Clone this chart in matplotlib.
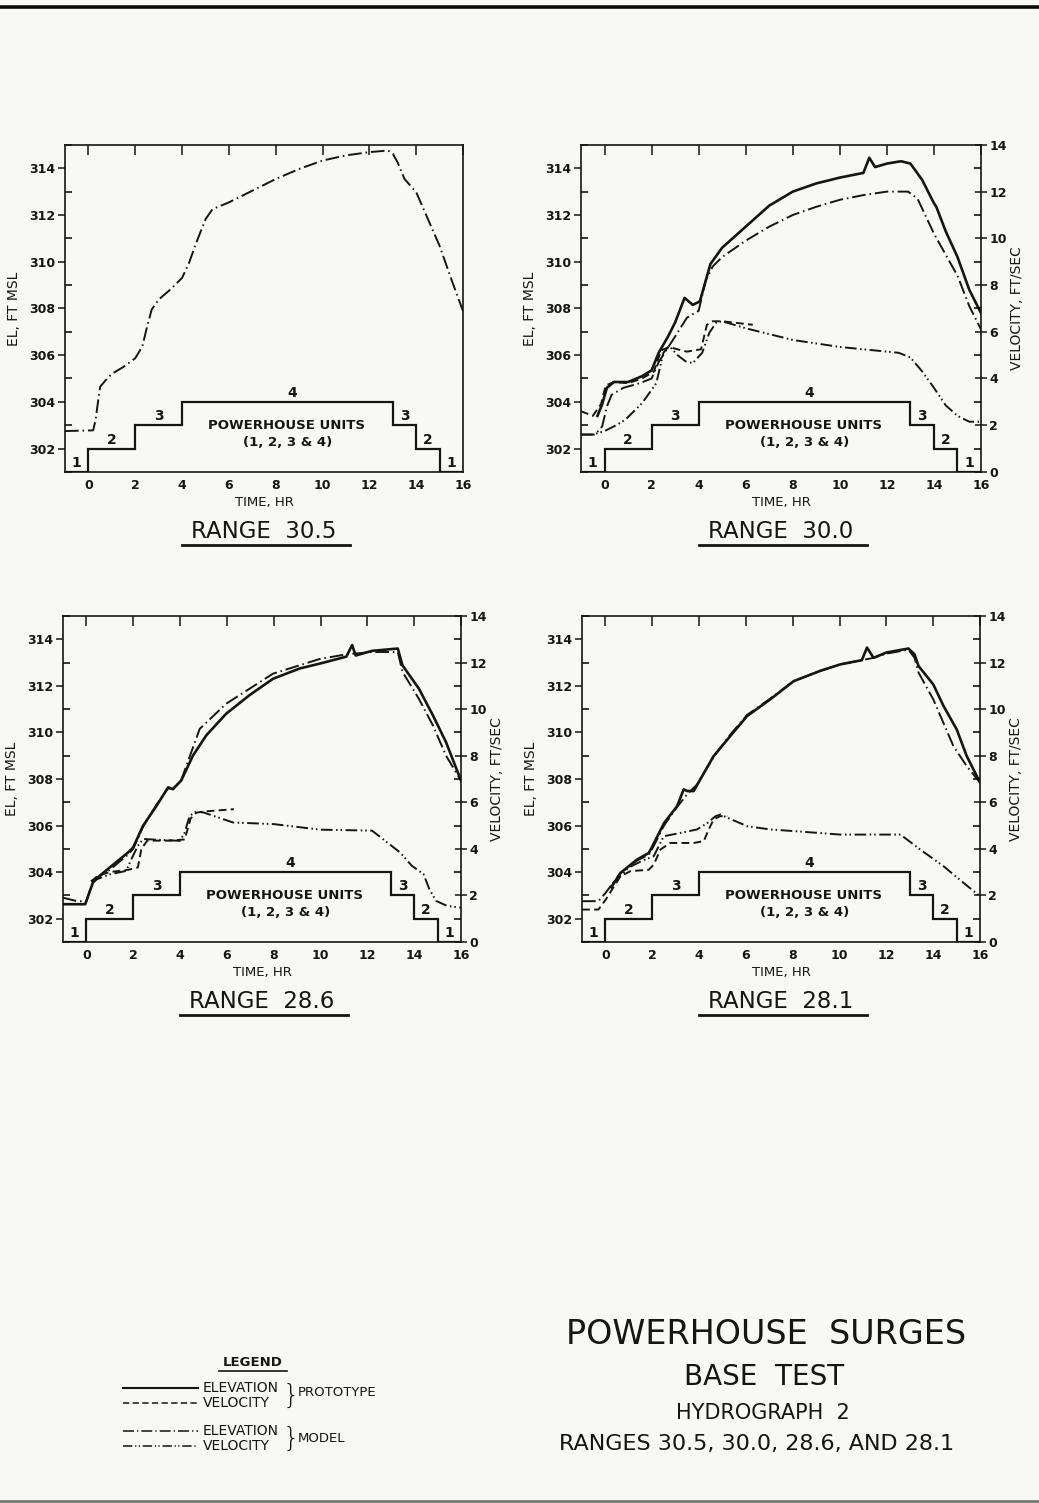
import numpy as np
import matplotlib
matplotlib.use('Agg')
import matplotlib.pyplot as plt
from matplotlib.lines import Line2D
from matplotlib.ticker import MultipleLocator

plt.rcParams['font.family'] = ['DejaVu Sans']

# ---------------- data ----------------
# powerhouse units in operation (step chart)
unit_edges = [-1, 0, 2, 4, 13, 14, 15, 16]
unit_count = [1, 2, 3, 4, 3, 2, 1]

# RANGE 30.5 - only one curve
r305_me_t = [-1, 0.2, 0.3, 0.4, 0.5, 0.8, 1.0, 1.5, 2.0, 2.3, 2.5, 2.7, 3.0, 3.5, 4.0, 4.3, 4.6,
             5.0, 5.3, 6.0, 7.0, 8.0, 9.0, 10.0, 11.0, 12.0, 12.8, 13.0, 13.2, 13.5, 14.0, 14.5,
             15.0, 15.5, 16.0]
r305_me = [302.75, 302.78, 303.2, 303.94, 304.65, 305.0, 305.2, 305.5, 305.87, 306.37, 307.2,
           307.95, 308.38, 308.81, 309.31, 309.96, 310.8, 311.82, 312.25, 312.54, 313.04, 313.54,
           313.97, 314.33, 314.55, 314.69, 314.76, 314.62, 314.26, 313.54, 312.97, 311.82, 310.67,
           309.24, 307.88]

# RANGE 30.0
r300_pe_t = [-0.3, -0.1, 0.1, 0.4, 1.0, 1.6, 2.0, 2.3, 2.7, 3.0, 3.4, 3.75, 4.05, 4.5, 5.0, 5.5,
             6.0, 7.0, 8.0, 9.0, 10.0, 11.0, 11.25, 11.5, 12.0, 12.6, 13.0, 13.5, 14.0, 14.1, 14.5,
             15.0, 15.5, 16.0]
r300_pe = [303.4, 303.9, 304.6, 304.85, 304.85, 305.1, 305.35, 306.1, 306.8, 307.4, 308.45,
           308.15, 308.3, 309.9, 310.6, 311.05, 311.5, 312.4, 313.0, 313.35, 313.6, 313.8, 314.45,
           314.05, 314.2, 314.3, 314.2, 313.5, 312.5, 312.35, 311.3, 310.2, 308.8, 307.8]
r300_me_t = [-1, -0.4, -0.1, 0.1, 0.3, 0.8, 1.5, 2.0, 2.3, 3.0, 3.5, 4.0, 4.3, 4.6, 5.0, 6.0, 7.0,
             8.0, 9.0, 10.0, 11.0, 12.0, 12.9, 13.3, 14.0, 15.0, 15.5, 16.0]
r300_me = [302.6, 302.6, 302.95, 303.8, 304.3, 304.6, 304.8, 305.0, 305.7, 306.8, 307.6, 307.9,
           309.2, 309.8, 310.2, 310.9, 311.5, 312.0, 312.35, 312.65, 312.85, 313.0, 313.0, 312.7,
           311.2, 309.4, 308.1, 307.1]
r300_pv_t = [-1, -0.5, -0.15, 0.05, 0.4, 1.0, 1.6, 2.1, 2.4, 2.75, 3.1, 3.5, 4.1, 4.35, 4.6, 5.0, 6.3]
r300_pv = [2.6, 2.4, 2.9, 3.7, 3.85, 3.8, 4.0, 4.3, 5.2, 5.35, 5.25, 5.15, 5.25, 6.3, 6.45, 6.45, 6.3]
r300_mv_t = [-1, -0.5, 0, 0.5, 0.9, 1.6, 2.2, 2.5, 2.75, 3.1, 3.45, 3.75, 4.15, 4.45, 4.75, 5.0,
             6.0, 7.0, 8.0, 9.0, 10.0, 11.0, 12.0, 12.5, 13.0, 13.5, 14.0, 14.5, 15.0, 15.5, 16.0]
r300_mv = [1.6, 1.6, 1.75, 2.0, 2.25, 2.95, 3.8, 5.1, 5.4, 5.0, 4.73, 4.66, 5.1, 5.95, 6.4, 6.45,
           6.15, 5.9, 5.65, 5.5, 5.35, 5.25, 5.15, 5.1, 4.9, 4.3, 3.6, 2.85, 2.4, 2.15, 2.15]

# RANGE 28.6
r286_pe_t = [-1, -0.05, 0.28, 0.57, 1.0, 1.78, 2.0, 2.42, 3.0, 3.49, 3.7, 4.05, 4.55, 5.12, 5.97,
             6.97, 7.97, 9.1, 9.96, 11.1, 11.35, 11.5, 12.2, 13.3, 13.5, 13.8, 14.2, 14.8, 15.36, 16.0]
r286_pe = [302.62, 302.62, 303.55, 303.84, 304.2, 304.84, 305.06, 305.99, 306.85, 307.64, 307.57,
           307.93, 309.0, 309.87, 310.8, 311.6, 312.3, 312.74, 312.95, 313.25, 313.75, 313.3,
           313.5, 313.6, 312.88, 312.45, 311.88, 310.73, 309.58, 307.93]
r286_me_t = [-1, -0.4, 0.0, 0.28, 0.6, 1.0, 1.78, 2.0, 2.42, 3.0, 3.49, 3.7, 4.05, 4.84, 5.97, 7.97,
             9.96, 11.1, 12.2, 13.3, 13.5, 14.2, 14.8, 15.36, 16.0]
r286_me = [302.9, 302.75, 302.75, 303.6, 303.85, 304.1, 304.75, 305.0, 305.95, 306.9, 307.6,
           307.55, 307.95, 310.15, 311.23, 312.52, 313.15, 313.35, 313.45, 313.45, 312.6, 311.44,
           310.3, 309.0, 307.93]
r286_pv_t = [0.2, 0.5, 1.0, 1.8, 2.2, 2.35, 2.6, 3.5, 4.2, 4.45, 4.7, 5.0, 6.3]
r286_pv = [2.6, 2.85, 3.0, 3.1, 3.2, 4.0, 4.35, 4.35, 4.4, 5.3, 5.55, 5.6, 5.7]
r286_mv_t = [0.2, 1.0, 1.7, 1.92, 2.2, 2.42, 4.0, 4.2, 4.41, 4.7, 5.0, 6.26, 8.0, 10.0, 12.2, 13.4,
             13.9, 14.4, 14.65, 14.94, 15.4, 16.0]
r286_mv = [2.6, 2.9, 3.05, 3.55, 4.13, 4.42, 4.34, 4.7, 5.42, 5.6, 5.56, 5.13, 5.06, 4.82, 4.78,
           3.84, 3.27, 2.91, 2.26, 1.76, 1.55, 1.47]

# RANGE 28.1
r281_pe_t = [0.25, 0.64, 1.35, 1.85, 2.0, 2.5, 3.06, 3.34, 3.5, 3.77, 4.05, 4.62, 5.33, 6.05, 7.04,
             8.04, 9.17, 10.03, 10.95, 11.17, 11.45, 12.0, 12.94, 13.2, 13.37, 14.0, 14.44, 15.0,
             15.43, 16.0]
r281_pe = [303.35, 303.96, 304.54, 304.82, 305.1, 306.1, 306.83, 307.55, 307.48, 307.48, 307.98,
           308.98, 309.84, 310.7, 311.42, 312.2, 312.64, 312.92, 313.1, 313.64, 313.2, 313.43,
           313.6, 313.35, 312.85, 312.06, 311.13, 310.13, 308.98, 307.84]
r281_me_t = [-1, -0.3, 0.0, 0.64, 1.35, 1.85, 2.0, 2.5, 3.06, 3.5, 3.9, 4.62, 5.33, 6.05, 7.04, 8.04,
             9.17, 10.03, 10.95, 11.45, 12.0, 12.94, 13.2, 13.37, 14.0, 14.86, 15.43, 16.0]
r281_me = [302.75, 302.75, 303.1, 303.96, 304.5, 304.75, 305.0, 306.0, 306.8, 307.35, 307.75,
           308.95, 309.9, 310.75, 311.45, 312.2, 312.64, 312.92, 313.1, 313.2, 313.38, 313.55,
           313.2, 312.57, 311.42, 309.41, 308.55, 307.84]
r281_pv_t = [-1, -0.3, 0.0, 0.64, 1.07, 1.85, 2.06, 2.35, 2.77, 3.77, 4.2, 4.41, 4.62, 4.9, 5.2]
r281_pv = [1.39, 1.39, 1.8, 2.82, 3.04, 3.1, 3.32, 3.97, 4.25, 4.25, 4.33, 4.83, 5.26, 5.4, 5.4]
r281_mv_t = [0.3, 1.0, 1.6, 2.06, 2.49, 3.2, 3.91, 4.34, 4.7, 4.9, 6.05, 7.04, 8.04, 10.03, 12.0,
             12.6, 13.44, 14.44, 15.3, 16.0]
r281_mv = [2.5, 3.2, 3.5, 3.68, 4.54, 4.68, 4.83, 5.1, 5.4, 5.47, 4.97, 4.83, 4.76, 4.61, 4.61,
           4.61, 3.97, 3.25, 2.53, 1.96]

ink = '#151515'
paper = '#f8f8f6'
# line styles
st_pe = dict(color=ink, lw=1.9, ls='-')
st_pv = dict(color=ink, lw=1.4, ls=(0, (4, 2.2)))
st_me = dict(color=ink, lw=1.4, ls=(0, (7, 2, 0.8, 2)))
st_mv = dict(color=ink, lw=1.4, ls=(0, (6, 1.8, 0.8, 1.5, 0.8, 1.8)))


def panel(rect, title, curves, velocity_axis=True):
    ax = fig.add_axes(rect)
    ax.set_facecolor('none')
    ax.set_xlim(-1, 16)
    ax.set_ylim(301, 315)
    for s in ax.spines.values():
        s.set_linewidth(1.2)
        s.set_color(ink)

    ax.set_xticks(np.arange(0, 17, 2))
    ax.set_yticks(np.arange(302, 315, 2))
    ax.yaxis.set_minor_locator(MultipleLocator(1))
    ax.tick_params(axis='y', which='major', direction='out', length=5, width=1.1,
                   labelsize=9, pad=2, colors=ink, right=False)
    ax.tick_params(axis='y', which='minor', direction='in', length=5, width=1.1, right=False)
    ax.tick_params(axis='x', which='major', direction='in', length=7, width=1.1, bottom=False,
                   top=True, labelsize=9, pad=5, colors=ink)
    for lab in ax.get_yticklabels() + ax.get_xticklabels():
        lab.set_fontweight('bold')

    # powerhouse units step line
    ax.stairs([300 + u for u in unit_count], unit_edges, baseline=None, color=ink, lw=1.6)
    for i, u in enumerate(unit_count):
        xc = (unit_edges[i] + unit_edges[i + 1]) / 2
        if u == 4:
            xc = 8.7
        ax.text(xc, 300 + u + 0.08, str(u), ha='center', va='bottom', fontsize=10,
                fontweight='bold', color=ink)
    ax.text(8.45, 303.0, 'POWERHOUSE UNITS', ha='center', va='center', fontsize=9.5,
            fontweight='bold', color=ink)
    ax.text(8.5, 302.25, '(1, 2, 3 & 4)', ha='center', va='center', fontsize=9.5,
            fontweight='bold', color=ink)

    ax.text(0.5, -0.094, 'TIME, HR', transform=ax.transAxes, ha='center', va='center',
            fontsize=9.5, color=ink)
    ax.text(-0.128, 0.5, 'EL, FT MSL', transform=ax.transAxes, rotation=90, ha='center',
            va='center', fontsize=10, color=ink)
    ax.text(0.5, -0.182, title, transform=ax.transAxes, ha='center', va='center',
            fontsize=16.5, color=ink)
    ax.add_line(Line2D([0.295, 0.715], [-0.223, -0.223], transform=ax.transAxes, color=ink,
                       lw=2, clip_on=False))

    vax = None
    if velocity_axis:
        vax = ax.twinx()
        vax.set_ylim(0, 14)
        vax.set_yticks(np.arange(0, 15, 2))
        vax.yaxis.set_minor_locator(MultipleLocator(1))
        vax.tick_params(axis='y', which='major', direction='inout', length=8, width=1.1,
                        labelsize=9, pad=2, colors=ink)
        vax.tick_params(axis='y', which='minor', direction='in', length=5, width=1.1)
        for lab in vax.get_yticklabels():
            lab.set_fontweight('bold')
        for s in vax.spines.values():
            s.set_visible(False)
        ax.text(1.09, 0.5, 'VELOCITY, FT/SEC', transform=ax.transAxes, rotation=90,
                ha='center', va='center', fontsize=10, color=ink)

    for kind, t, y in curves:
        if kind == 'pe':
            ax.plot(t, y, **st_pe)
        elif kind == 'me':
            ax.plot(t, y, **st_me)
        elif kind == 'pv':
            vax.plot(t, y, **st_pv)
        elif kind == 'mv':
            vax.plot(t, y, **st_mv)
    return ax


fig = plt.figure(figsize=(10.39, 15.03), dpi=100)
fig.patch.set_facecolor(paper)

panel([0.0626, 0.6860, 0.3831, 0.2176], 'RANGE  30.5',
      [('me', r305_me_t, r305_me)], velocity_axis=False)
panel([0.5592, 0.6860, 0.3850, 0.2176], 'RANGE  30.0',
      [('pe', r300_pe_t, r300_pe), ('me', r300_me_t, r300_me),
       ('pv', r300_pv_t, r300_pv), ('mv', r300_mv_t, r300_mv)])
panel([0.0606, 0.3733, 0.3831, 0.2169], 'RANGE  28.6',
      [('pe', r286_pe_t, r286_pe), ('me', r286_me_t, r286_me),
       ('pv', r286_pv_t, r286_pv), ('mv', r286_mv_t, r286_mv)])
panel([0.5602, 0.3733, 0.3831, 0.2169], 'RANGE  28.1',
      [('pe', r281_pe_t, r281_pe), ('me', r281_me_t, r281_me),
       ('pv', r281_pv_t, r281_pv), ('mv', r281_mv_t, r281_mv)])

# border lines of the sheet
fig.add_artist(Line2D([0, 1], [0.9953, 0.9953], color='#0a0a0a', lw=2.6))
fig.add_artist(Line2D([0, 1], [0.0015, 0.0015], color='#777777', lw=2))


def fy(px):
    return 1 - px / 1503.0


def fx(px):
    return px / 1039.0


# legend block
fig.text(fx(253), fy(1363), 'LEGEND', ha='center', va='center', fontsize=9.5,
         fontweight='bold', color=ink)
fig.add_artist(Line2D([fx(219), fx(287)], [fy(1371), fy(1371)], color=ink, lw=1.2))
leg_rows = [(1388, st_pe, 'ELEVATION'), (1403, st_pv, 'VELOCITY'),
            (1431, st_me, 'ELEVATION'), (1446, st_mv, 'VELOCITY')]
for ypx, st, lab in leg_rows:
    fig.add_artist(Line2D([fx(123), fx(198)], [fy(ypx), fy(ypx)], color=st['color'],
                          lw=st['lw'] * 0.8, ls=st['ls']))
    fig.text(fx(203), fy(ypx), lab, ha='left', va='center', fontsize=10, color=ink)
fig.text(fx(283), fy(1395.5), '}', ha='left', va='center', fontsize=19, color=ink,
         fontweight='light')
fig.text(fx(298), fy(1393), 'PROTOTYPE', ha='left', va='center', fontsize=9.5, color=ink)
fig.text(fx(283), fy(1438.5), '}', ha='left', va='center', fontsize=19, color=ink,
         fontweight='light')
fig.text(fx(298), fy(1439), 'MODEL', ha='left', va='center', fontsize=9.5, color=ink)

# title block
fig.text(fx(766), fy(1334), 'POWERHOUSE  SURGES', ha='center', va='center', fontsize=24,
         color=ink)
fig.text(fx(764), fy(1377), 'BASE  TEST', ha='center', va='center', fontsize=20, color=ink)
fig.text(fx(763), fy(1413), 'HYDROGRAPH  2', ha='center', va='center', fontsize=15,
         color=ink)
fig.text(fx(757), fy(1444), 'RANGES 30.5, 30.0, 28.6, AND 28.1', ha='center', va='center',
         fontsize=16, color=ink)

fig.savefig('out.png', dpi=100, facecolor=paper)
